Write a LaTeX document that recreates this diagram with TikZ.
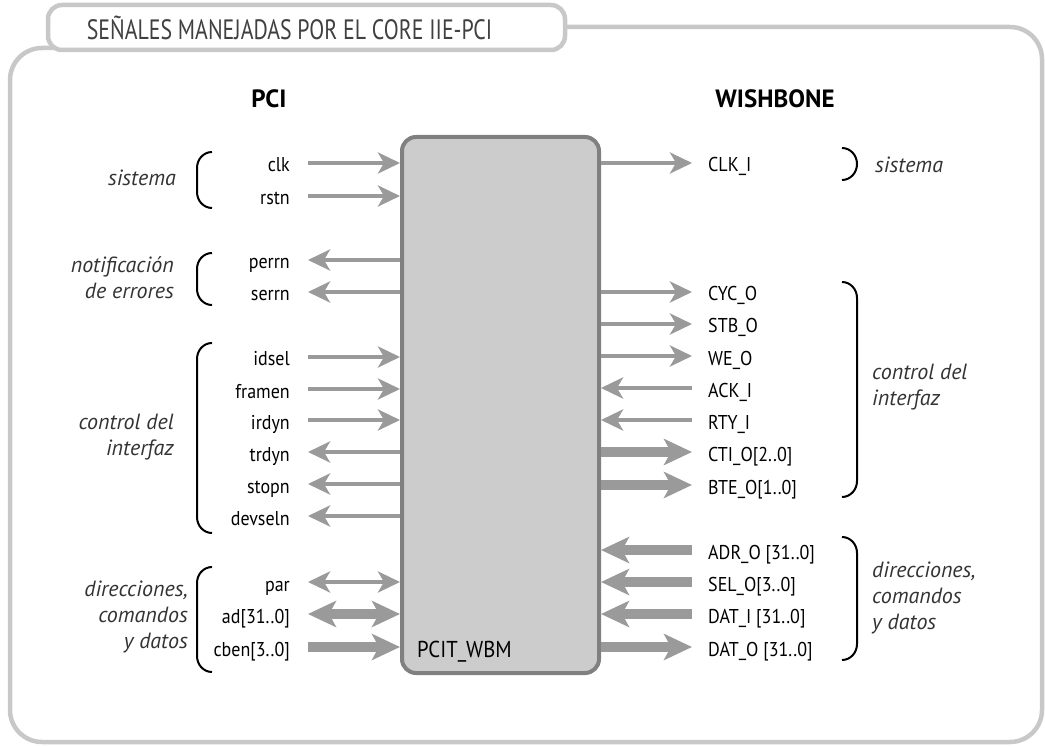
\documentclass[tikz,border=0pt]{standalone}
\usepackage{fontspec}
\setmainfont{PT Sans}
\newfontfamily\tabfont{PT Sans}[FakeStretch=0.78]
\newfontfamily\sigfont{PT Sans}[FakeStretch=0.9]
\usepackage{xcolor}
\usetikzlibrary{arrows.meta}
\definecolor{frameGray}{HTML}{C8C8C8}
\definecolor{wireGray}{HTML}{9A9A9A}
\definecolor{coreFill}{HTML}{CCCCCC}
\definecolor{coreEdge}{HTML}{808080}
\definecolor{textGray}{HTML}{333333}
\definecolor{titleGray}{HTML}{404040}

\begin{document}
\begin{tikzpicture}[x=1pt, y=-1pt,
    % Frame and title tab
    outerframe/.style={draw=frameGray, line width=4.5pt, rounded corners=32pt},
    tabbox/.style={rectangle, draw=frameGray, fill=white, line width=4.5pt, rounded corners=14pt, minimum width=517pt, minimum height=45pt, inner sep=0pt, text=titleGray, font=\tabfont\fontsize{28}{32}\selectfont},
    header/.style={inner sep=0pt, font=\bfseries\fontsize{25}{30}\selectfont},
    % Core block
    core/.style={rectangle, draw=coreEdge, fill=coreFill, line width=4pt, rounded corners=14pt, minimum width=197pt, minimum height=536pt},
    corelabel/.style={inner sep=0pt, font=\sigfont\fontsize{23}{28}\selectfont},
    % Signal names
    sigL/.style={anchor=east, inner sep=0pt, text height=18pt, text depth=0pt, font=\sigfont\fontsize{20}{24}\selectfont},
    sigR/.style={sigL, anchor=west},
    % Group labels and brackets
    grouplabel/.style={inner sep=0pt, text=textGray, font=\itshape\fontsize{22}{26}\selectfont},
    brace/.style={draw=black, line width=2pt},
    % Wires and buses
    wire/.style={draw=wireGray, line width=4pt, >={Stealth[length=22pt, width=21pt, inset=6pt]}},
    bus/.style={draw=wireGray, line width=10pt, >={Stealth[length=28pt, width=26pt, inset=7pt]}}
]
\useasboundingbox (0,0) rectangle (1045,746);

% Frame and title
\draw[outerframe] (500,27) -- (1042,27) -- (1042,742) -- (10,742) -- (10,48) -- (80,48);
\node[tabbox] (title) at (306.5,27.5) {SEÑALES MANEJADAS POR EL CORE IIE-PCI\hspace*{34pt}};

% Headers
\node[header] (pci) at (269,99) {PCI};
\node[header] (wb) at (775,99) {WISHBONE};

% Core block
\node[core] (core) at (500.5,405) {};
\node[corelabel, anchor=base west] (wbm) at (417,657) {PCIT\_WBM};

% PCI side - signal names
\node[sigL] (clk) at (290,163) {clk};
\node[sigL] (rstn) at (290,196) {rstn};
\node[sigL] (perrn) at (290,260) {perrn};
\node[sigL] (serrn) at (290,292) {serrn};
\node[sigL] (idsel) at (290,357) {idsel};
\node[sigL] (framen) at (290,389) {framen};
\node[sigL] (irdyn) at (290,420) {irdyn};
\node[sigL] (trdyn) at (290,452) {trdyn};
\node[sigL] (stopn) at (290,484) {stopn};
\node[sigL] (devseln) at (290,516) {devseln};
\node[sigL] (par) at (290,582) {par};
\node[sigL] (ad) at (290,614) {ad[31..0]};
\node[sigL] (cben) at (290,647) {cben[3..0]};

% PCI side - connections
\draw[wire, ->, shorten <=18pt] (clk) -- (clk -| core.west);
\draw[wire, ->, shorten <=18pt] (rstn) -- (rstn -| core.west);
\draw[wire, ->, shorten >=18pt] (perrn -| core.west) -- (perrn);
\draw[wire, ->, shorten >=18pt] (serrn -| core.west) -- (serrn);
\draw[wire, ->, shorten <=18pt] (idsel) -- (idsel -| core.west);
\draw[wire, ->, shorten <=18pt] (framen) -- (framen -| core.west);
\draw[wire, ->, shorten <=18pt] (irdyn) -- (irdyn -| core.west);
\draw[wire, ->, shorten >=18pt] (trdyn -| core.west) -- (trdyn);
\draw[wire, ->, shorten >=18pt] (stopn -| core.west) -- (stopn);
\draw[wire, ->, shorten >=18pt] (devseln -| core.west) -- (devseln);
\draw[wire, <->, shorten <=18pt] (par) -- (par -| core.west);
\draw[bus, <->, shorten <=18pt] (ad) -- (ad -| core.west);
\draw[bus, ->, shorten <=18pt] (cben) -- (cben -| core.west);

% PCI side - groups
\draw[brace] (212,152) to[out=180,in=90] (197,168) -- (197,192) to[out=-90,in=180] (212,208);
\draw[brace] (212,253) to[out=180,in=90] (197,269) -- (197,289) to[out=-90,in=180] (212,305);
\draw[brace] (212,343) to[out=180,in=90] (197,359) -- (197,517) to[out=-90,in=180] (212,533);
\draw[brace] (212,567) to[out=180,in=90] (197,583) -- (197,656) to[out=-90,in=180] (212,672);
\node[grouplabel, anchor=east] (sysL) at (176,178) {sistema};
\node[grouplabel, anchor=east, align=right] (errL) at (174,278) {notificación\\de errores};
\node[grouplabel, anchor=east, align=right] (ctrlL) at (174,437) {control del\\interfaz};
\node[grouplabel, anchor=east, align=right] (dataL) at (188,617) {direcciones,\\comandos\\y datos};

% WISHBONE side - signal names
\node[sigR] (clki) at (708,163) {CLK\_I};
\node[sigR] (cyco) at (708,292) {CYC\_O};
\node[sigR] (stbo) at (708,324) {STB\_O};
\node[sigR] (weo) at (708,356) {WE\_O};
\node[sigR] (acki) at (708,388) {ACK\_I};
\node[sigR] (rtyi) at (708,420) {RTY\_I};
\node[sigR] (ctio) at (708,452) {CTI\_O[2..0]};
\node[sigR] (bteo) at (708,485) {BTE\_O[1..0]};
\node[sigR] (adro) at (708,550) {ADR\_O [31..0]};
\node[sigR] (selo) at (708,582) {SEL\_O[3..0]};
\node[sigR] (dati) at (708,614) {DAT\_I [31..0]};
\node[sigR] (dato) at (708,647) {DAT\_O [31..0]};

% WISHBONE side - connections
\draw[wire, ->, shorten >=16pt] (clki -| core.east) -- (clki);
\draw[wire, ->, shorten >=16pt] (cyco -| core.east) -- (cyco);
\draw[wire, ->, shorten >=16pt] (stbo -| core.east) -- (stbo);
\draw[wire, ->, shorten >=16pt] (weo -| core.east) -- (weo);
\draw[wire, ->, shorten <=16pt] (acki) -- (acki -| core.east);
\draw[wire, ->, shorten <=16pt] (rtyi) -- (rtyi -| core.east);
\draw[bus, ->, shorten >=16pt] (ctio -| core.east) -- (ctio);
\draw[bus, ->, shorten >=16pt] (bteo -| core.east) -- (bteo);
\draw[bus, ->, shorten <=16pt] (adro) -- (adro -| core.east);
\draw[bus, ->, shorten <=16pt] (selo) -- (selo -| core.east);
\draw[bus, ->, shorten <=16pt] (dati) -- (dati -| core.east);
\draw[bus, ->, shorten >=16pt] (dato -| core.east) -- (dato);

% WISHBONE side - groups
\draw[brace] (842,148) to[out=0,in=90] (857,164) to[out=-90,in=0] (842,180);
\draw[brace] (842,282) to[out=0,in=90] (857,298) -- (857,481) to[out=-90,in=0] (842,497);
\draw[brace] (842,537) to[out=0,in=90] (857,553) -- (857,644) to[out=-90,in=0] (842,660);
\node[grouplabel, anchor=west] (sysR) at (875,165) {sistema};
\node[grouplabel, anchor=west, align=left] (ctrlR) at (872,387) {control del\\interfaz};
\node[grouplabel, anchor=west, align=left] (dataR) at (872,598) {direcciones,\\comandos\\y datos};
\end{tikzpicture}
\end{document}
